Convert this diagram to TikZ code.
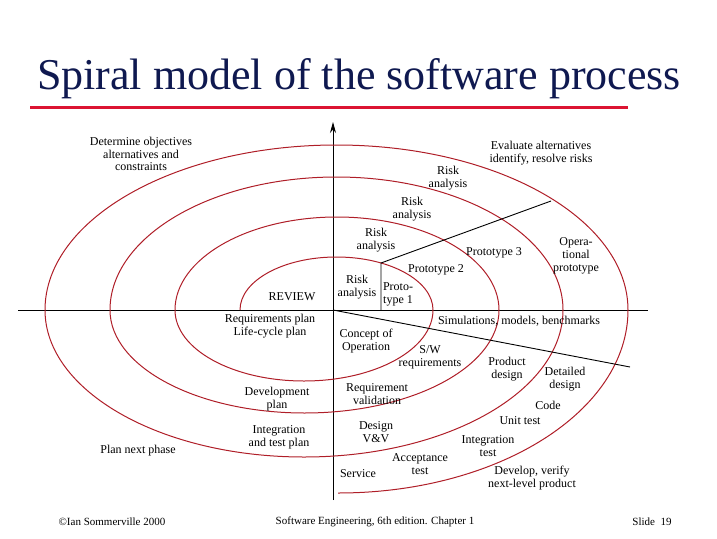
\documentclass[tikz,border=0pt]{standalone}
\usepackage{fontspec}
\setmainfont{Liberation Serif}
\usetikzlibrary{arrows.meta}
\definecolor{spir}{RGB}{175,30,40}
\definecolor{ttl}{RGB}{15,25,80}
\definecolor{bar}{RGB}{220,20,50}
\begin{document}
\begin{tikzpicture}[x=1pt,y=-1pt,
  lbl/.style={align=center,inner sep=0pt,font=\fontsize{12}{12.8}\selectfont},
  foot/.style={inner sep=0pt,font=\fontsize{11}{12}\selectfont},
  sp/.style={draw=spir,line width=1pt},
  ax/.style={draw=black,line width=0.9pt}]
\useasboundingbox (0,0) rectangle (717,538);
\node[inner sep=0pt,font=\fontsize{44}{48}\selectfont,text=ttl] (title) at (359,79) {Spiral model of the software process};
\coordinate (b1) at (30,107); \coordinate (b2) at (628,107);
\draw[bar,line width=3pt] (b1) -- (b2);
% axes
\coordinate (vt) at (333,122); \coordinate (vb) at (333,500);
\coordinate (hl) at (18,310); \coordinate (hr) at (648,310);
\draw[ax,-{Stealth[length=11pt,width=6pt]}] (vb) -- (vt);
\draw[ax] (hl) -- (hr);
% spiral: upper halves (y axis flipped)
\draw[sp] (240,310) arc[start angle=180,end angle=360,x radius=96.5,y radius=53];
\draw[sp] (433,310) arc[start angle=0,end angle=180,x radius=129,y radius=71];
\draw[sp] (175,310) arc[start angle=180,end angle=360,x radius=162,y radius=93];
\draw[sp] (499,310) arc[start angle=0,end angle=180,x radius=194.5,y radius=103];
\draw[sp] (110,310) arc[start angle=180,end angle=360,x radius=226.5,y radius=133];
\draw[sp] (563,310) arc[start angle=0,end angle=180,x radius=259,y radius=147];
\draw[sp] (45,310) arc[start angle=180,end angle=360,x radius=291.5,y radius=165];
\draw[sp] (628,310) arc[start angle=0,end angle=90,x radius=290,y radius=183];
% sector lines
\coordinate (p1) at (381,310); \coordinate (p2) at (381,263); \coordinate (p3) at (551,201);
\draw[ax] (p1) -- (p2) -- (p3);
\coordinate (o) at (333,310); \coordinate (q) at (630,367);
\draw[ax] (o) -- (q);
% labels
\node[lbl] (det) at (141,154) {Determine objectives\\alternatives and\\constraints};
\node[lbl] (eva) at (541,153) {Evaluate alternatives\\identify, resolve risks};
\node[lbl] (r4) at (448,178) {Risk\\analysis};
\node[lbl] (r3) at (412,209) {Risk\\analysis};
\node[lbl] (r2) at (376,240) {Risk\\analysis};
\node[lbl] (r1) at (357,287) {Risk\\analysis};
\node[lbl] (pt1) at (398,294) {Proto-\\type 1};
\node[lbl] (pt2) at (436,270) {Prototype 2};
\node[lbl] (pt3) at (494,253) {Prototype 3};
\node[lbl] (op) at (576,256) {Opera-\\tional\\prototype};
\node[lbl] (rev) at (292,297) {REVIEW};
\node[lbl] (req) at (270,326) {Requirements plan\\Life-cycle plan};
\node[lbl] (sim) at (519,321) {Simulations, models, benchmarks};
\node[lbl] (con) at (366,341) {Concept of\\Operation};
\node[lbl] (sw) at (430,357) {S/W\\requirements};
\node[lbl] (pd) at (507,369) {Product\\design};
\node[lbl] (dd) at (565,379) {Detailed\\design};
\node[lbl] (code) at (548,405) {Code};
\node[lbl] (ut) at (520,421) {Unit test};
\node[lbl] (dp) at (277,399) {Development\\plan};
\node[lbl] (rv) at (377,394) {Requirement\\validation};
\node[lbl] (dv) at (376,432) {Design\\V\&V};
\node[lbl] (itp) at (279,437) {Integration\\and test plan};
\node[lbl] (it) at (488,446) {Integration\\test};
\node[lbl] (at) at (420,464) {Acceptance\\test};
\node[lbl] (svc) at (358,474) {Service};
\node[lbl] (pnp) at (138,451) {Plan next phase};
\node[lbl] (dvp) at (532,478) {Develop, verify\\next-level product};
% footer
\node[foot] (f1) at (112,522) {©Ian Sommerville 2000};
\node[foot] (f2) at (375,522) {Software Engineering, 6th edition. Chapter 1};
\node[foot] (f3) at (652,522) {Slide\ \ 19};
\end{tikzpicture}
\end{document}
